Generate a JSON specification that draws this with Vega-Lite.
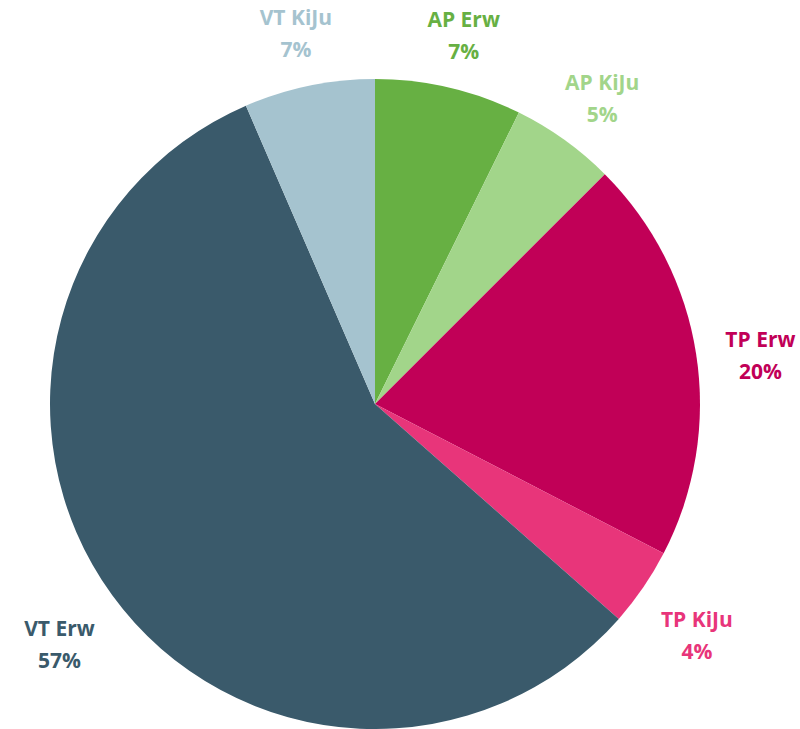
{
  "$schema": "https://vega.github.io/schema/vega-lite/v6.json",
  "width": 750,
  "height": 650,
  "autosize": {"type": "none"},
  "padding": {"left": 0, "right": 50, "top": 79, "bottom": 0},
  "background": "white",
  "view": {"stroke": null},
  "data": {
    "values": [
      {"cat": "AP Erw", "value": 7.3, "label": "AP Erw\n7%"},
      {"cat": "AP KiJu", "value": 5.2, "label": "AP KiJu\n5%"},
      {"cat": "TP Erw", "value": 20.1, "label": "TP Erw\n20%"},
      {"cat": "TP KiJu", "value": 3.9, "label": "TP KiJu\n4%"},
      {"cat": "VT Erw", "value": 57.0, "label": "VT Erw\n57%"},
      {"cat": "VT KiJu", "value": 6.5, "label": "VT KiJu\n7%"}
    ]
  },
  "encoding": {
    "theta": {"field": "value", "type": "quantitative", "stack": true},
    "color": {
      "field": "cat",
      "type": "nominal",
      "scale": {
        "domain": ["AP Erw", "AP KiJu", "TP Erw", "TP KiJu", "VT Erw", "VT KiJu"],
        "range": ["#67b043", "#a2d58a", "#c10057", "#e8357a", "#3a5a6b", "#a5c3cf"]
      },
      "legend": null
    },
    "order": {"field": "cat", "type": "nominal"}
  },
  "layer": [
    {"mark": {"type": "arc", "radius": 325}},
    {
      "mark": {
        "type": "text",
        "radius": 390,
        "dy": -3,
        "lineBreak": "\n",
        "font": "Open Sans",
        "fontWeight": "bold",
        "fontSize": 21,
        "lineHeight": 32,
        "align": "center",
        "baseline": "middle"
      },
      "encoding": {"text": {"field": "label", "type": "nominal"}}
    }
  ]
}
